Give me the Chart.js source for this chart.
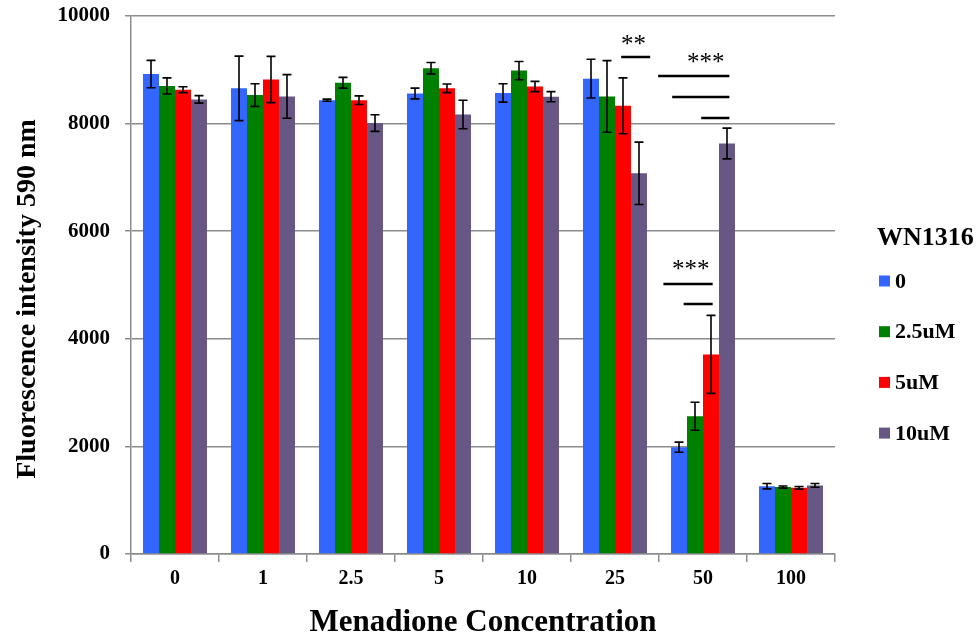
<!DOCTYPE html>
<html>
<head>
<meta charset="utf-8">
<script src="https://cdn.jsdelivr.net/npm/chart.js@4/dist/chart.umd.min.js"></script>
<style>
  body { margin: 0; background: #fff; }
  canvas { display: block; }
</style>
</head>
<body>
<canvas id="chart" width="980" height="638"></canvas>
<script>
// menadione concentration groups
const categories = ['0', '1', '2.5', '5', '10', '25', '50', '100'];
const seriesNames = ['0', '2.5uM', '5uM', '10uM'];
const seriesColors = ['#3366FF', '#008000', '#FF0000', '#665785'];

// fluorescence means and error (+/-) per WN1316 dose
const wn0 = [8920, 8655, 8435, 8560, 8570, 8835, 1985, 1260];
const wn0Err = [255, 600, 20, 100, 170, 360, 95, 50];
const wn25 = [8700, 8530, 8760, 9030, 8985, 8505, 2560, 1245];
const wn25Err = [150, 210, 100, 105, 170, 665, 260, 20];
const wn5 = [8630, 8820, 8435, 8655, 8690, 8330, 3710, 1230];
const wn5Err = [55, 430, 80, 80, 95, 520, 725, 25];
const wn10 = [8450, 8505, 8010, 8170, 8500, 7075, 7630, 1275];
const wn10Err = [70, 405, 155, 265, 95, 580, 285, 35];

const yTicks = [0, 2000, 4000, 6000, 8000, 10000];

// significance marks: x in category units, y in data units
const sigLines = [
  [5.07, 5.40, 9240],
  [5.49, 6.30, 8885],
  [5.65, 6.30, 8495],
  [5.98, 6.30, 8105],
  [5.55, 6.11, 5020],
  [5.78, 6.11, 4655]
];
const sigTexts = [
  ['**', 5.21, 9560],
  ['***', 6.03, 9230],
  ['***', 5.86, 5380]
];

const serif = 'Liberation Serif, Times New Roman, serif';
const allValues = [wn0, wn25, wn5, wn10];
const allErrors = [wn0Err, wn25Err, wn5Err, wn10Err];

const errorBars = {
  id: 'errorBars',
  afterDatasetsDraw(chart) {
    const ctx = chart.ctx, y = chart.scales.y;
    ctx.save();
    ctx.strokeStyle = '#000';
    ctx.lineWidth = 1.6;
    chart.data.datasets.forEach((ds, i) => {
      chart.getDatasetMeta(i).data.forEach((bar, j) => {
        const v = ds.data[j], e = ds.errors[j];
        const t = y.getPixelForValue(v + e), b = y.getPixelForValue(v - e);
        ctx.beginPath();
        ctx.moveTo(bar.x, t); ctx.lineTo(bar.x, b);
        ctx.moveTo(bar.x - 4.5, t); ctx.lineTo(bar.x + 4.5, t);
        ctx.moveTo(bar.x - 4.5, b); ctx.lineTo(bar.x + 4.5, b);
        ctx.stroke();
      });
    });
    ctx.restore();
  }
};

const marks = {
  id: 'marks',
  afterDraw(chart) {
    const ctx = chart.ctx, x = chart.scales.x, y = chart.scales.y;
    ctx.save();
    ctx.strokeStyle = '#000';
    ctx.lineWidth = 2.5;
    sigLines.forEach(([a, b, v]) => {
      const py = Math.round(y.getPixelForValue(v));
      ctx.beginPath();
      ctx.moveTo(x.getPixelForValue(a), py);
      ctx.lineTo(x.getPixelForValue(b), py);
      ctx.stroke();
    });
    ctx.fillStyle = '#000';
    ctx.font = '25px ' + serif;
    ctx.textAlign = 'center';
    ctx.textBaseline = 'middle';
    sigTexts.forEach(([s, a, v]) => {
      ctx.fillText(s, x.getPixelForValue(a), y.getPixelForValue(v) + 6);
    });

    // y axis title, sits a bit below the plot centre like the original
    ctx.save();
    ctx.translate(28, 299);
    ctx.rotate(-Math.PI / 2);
    ctx.font = 'bold 28px ' + serif;
    ctx.fillText('Fluorescence intensity 590 nm', 0, 0);
    ctx.restore();

    // legend
    ctx.textAlign = 'left';
    ctx.font = 'bold 26px ' + serif;
    ctx.fillText('WN1316', 877, 238);
    ctx.font = 'bold 22px ' + serif;
    chart.data.datasets.forEach((ds, i) => {
      const ly = 281 + i * 50.7;
      ctx.fillStyle = ds.backgroundColor;
      ctx.fillRect(879, ly - 5.5, 11, 11);
      ctx.fillStyle = '#000';
      ctx.fillText(ds.label, 895, ly + 1);
    });
    ctx.restore();
  }
};

new Chart(document.getElementById('chart'), {
  type: 'bar',
  data: {
    labels: categories,
    datasets: seriesNames.map((name, i) => ({
      label: name,
      data: allValues[i],
      errors: allErrors[i],
      backgroundColor: seriesColors[i],
      borderWidth: 0,
      categoryPercentage: 0.727,
      barPercentage: 1
    }))
  },
  options: {
    responsive: false,
    animation: false,
    layout: { padding: { top: 16, right: 145, left: 0, bottom: 0 } },
    plugins: {
      legend: { display: false },
      tooltip: { enabled: false }
    },
    scales: {
      x: {
        afterFit(scale) { scale.height = 84; },
        grid: {
          offset: true,
          drawOnChartArea: false,
          drawTicks: true,
          tickLength: 8,
          color: '#8c8c8c',
          lineWidth: 1.5
        },
        border: { color: '#8c8c8c', width: 1.5 },
        ticks: {
          padding: 5,
          color: '#000',
          font: { family: serif, size: 20, weight: 'bold' }
        },
        title: {
          display: true,
          text: 'Menadione Concentration',
          color: '#000',
          padding: { top: 0, bottom: 0 },
          font: { family: serif, size: 31, weight: 'bold', lineHeight: 1 }
        }
      },
      y: {
        z: 1,
        min: 0,
        max: 10000,
        afterFit(scale) {
          scale.width = 131;
          scale.paddingTop = 0;
          scale.paddingBottom = 0;
        },
        afterBuildTicks(scale) { scale.ticks = yTicks.map(v => ({ value: v })); },
        grid: {
          color: '#8c8c8c',
          lineWidth: 1.5,
          tickLength: 6
        },
        border: { color: '#8c8c8c', width: 1.5 },
        ticks: {
          padding: 15,
          color: '#000',
          callback: v => String(v),
          font: { family: serif, size: 21, weight: 'bold' }
        }
      }
    }
  },
  plugins: [errorBars, marks]
});
</script>
</body>
</html>
